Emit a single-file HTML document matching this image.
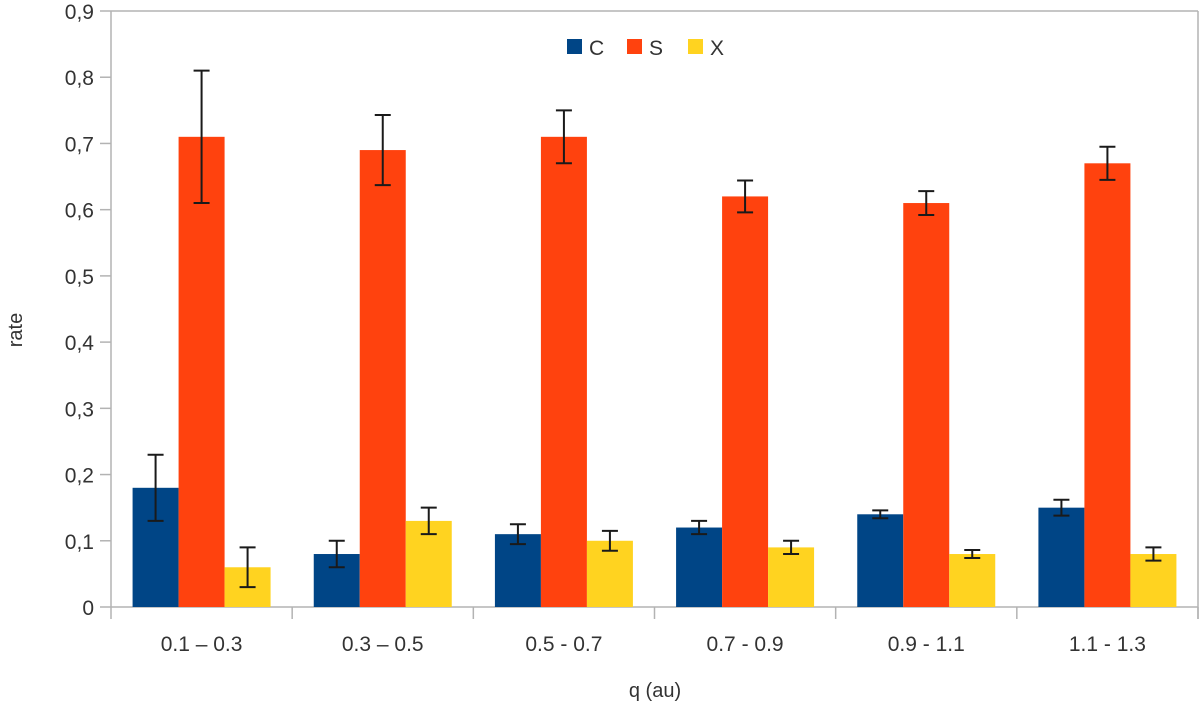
<!DOCTYPE html>
<html><head><meta charset="utf-8"><style>
body{margin:0;background:#fff}
svg text{font-family:"Liberation Sans",sans-serif;fill:#333}
</style></head><body>
<svg id="chart" width="1200" height="715" xmlns="http://www.w3.org/2000/svg">
<g id="grid"></g><g id="bars"></g><g id="axes"></g>
<g font-size="21">
<rect x="567" y="39" width="15" height="15" fill="#004586"/>
<text x="589" y="55">C</text>
<rect x="627" y="39" width="15" height="15" fill="#ff420e"/>
<text x="649" y="55">S</text>
<rect x="688" y="39" width="15" height="15" fill="#ffd320"/>
<text x="710" y="55">X</text>
</g>
<text x="22" y="330" font-size="20" text-anchor="middle" transform="rotate(-90 22 330)">rate</text>
<text x="655" y="697" font-size="20" text-anchor="middle">q (au)</text>
</svg>
<script>
const categories=["0.1 – 0.3","0.3 – 0.5","0.5 - 0.7","0.7 - 0.9","0.9 - 1.1","1.1 - 1.3"];
const seriesC=[0.18,0.08,0.11,0.12,0.14,0.15];
const seriesS=[0.71,0.69,0.71,0.62,0.61,0.67];
const seriesX=[0.06,0.13,0.10,0.09,0.08,0.08];
const errC=[0.05,0.02,0.015,0.01,0.006,0.012];
const errS=[0.1,0.053,0.04,0.024,0.018,0.025];
const errX=[0.03,0.02,0.015,0.01,0.006,0.01];
const yTicks=["0","0,1","0,2","0,3","0,4","0,5","0,6","0,7","0,8","0,9"];
const NS="http://www.w3.org/2000/svg";
const x0=111,x1=1198,y0=607,yTop=11,yMax=0.9;
const y=v=>y0-(v/yMax)*(y0-yTop);
const gw=(x1-x0)/categories.length;
const gx=i=>x0+i*gw;
function mk(p,t,a){const e=document.createElementNS(NS,t);for(const k in a)e.setAttribute(k,a[k]);p.appendChild(e);return e;}
const grid=document.getElementById('grid'),bars=document.getElementById('bars'),axes=document.getElementById('axes');
yTicks.forEach((t,i)=>{const v=i/10,yy=y(v);
 const full=(i===0||i===yTicks.length-1);
 const g=mk(grid,'line',{x1:x0-11,x2:full?x1:x0,y1:yy,y2:yy,stroke:'#b3b3b3','stroke-width':1.5});
 
 
 const tx=mk(axes,'text',{x:x0-17,y:yy+8,'font-size':21,'text-anchor':'end'});tx.textContent=t;
 
 
});
const ax=mk(axes,'line',{x1:x0,x2:x0,y1:yTop,y2:y0,stroke:'#b3b3b3','stroke-width':1.5});


const rb=mk(axes,'line',{x1:x1,x2:x1,y1:yTop,y2:y0+12,stroke:'#b3b3b3','stroke-width':1.5});


for(let i=0;i<=categories.length;i++){const t=mk(axes,'line',{x1:gx(i),x2:gx(i),y1:y0,y2:y0+12,stroke:'#b3b3b3','stroke-width':1.5});
 
 }
const series=[[seriesC,errC,'#004586','c'],[seriesS,errS,'#ff420e','s'],[seriesX,errX,'#ffd320','x']];
const bw=46,pad=(gw-3*bw)/2;
categories.forEach((c,i)=>{
 series.forEach(([vals,errs,col,n],k)=>{
  const bx=gx(i)+pad+k*bw,v=vals[i];
  const r=mk(bars,'rect',{x:bx,y:y(v),width:bw,height:y0-y(v),fill:col});
  
  
  const cx=bx+bw/2,e=errs[i];
  const eb=mk(bars,'path',{d:`M${cx-8},${y(v+e)}H${cx+8}M${cx},${y(v+e)}V${y(v-e)}M${cx-8},${y(v-e)}H${cx+8}`,stroke:'#1a1a1a','stroke-width':2,fill:'none'});
  
  
 });
 const t=mk(axes,'text',{x:gx(i)+gw/2,y:651,'font-size':21,'text-anchor':'middle'});t.textContent=c;
 
 
});
</script>
</body></html>
